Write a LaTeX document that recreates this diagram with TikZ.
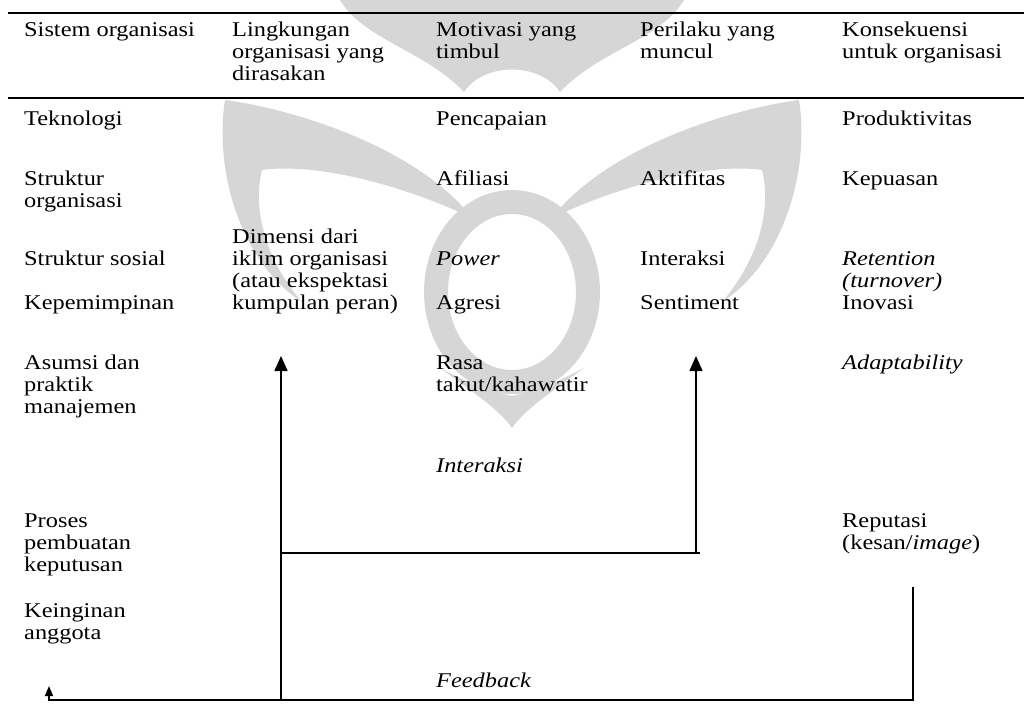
\documentclass[tikz,border=0pt]{standalone}
\usepackage{fontspec}
\setmainfont{Liberation Serif}[FakeStretch=1.16]
\usetikzlibrary{arrows.meta}
\begin{document}
\begin{tikzpicture}[x=1pt,y=-1pt,
  txt/.style={anchor=north west,inner sep=0pt,align=left,
    font=\fontsize{21}{22}\selectfont,text=black},
  rule/.style={line width=2pt},
  flow/.style={line width=1.5pt},
  up/.style={flow,-{Triangle[width=13pt,length=15pt]}},
  upsmall/.style={flow,-{Triangle[width=8pt,length=10pt]}},
  wm/.style={fill=black!16,draw=none}]
\useasboundingbox (0,0) rectangle (1024,721);
% faint emblem in the background
\begin{scope}
  \draw[black!16,line width=24pt] (512,292) ellipse (76 and 90);
  \path[wm] (340,0) -- (684,0) .. controls (660,40) and (600,50) .. (560,92)
    .. controls (540,62) and (484,62) .. (464,92) .. controls (424,50) and (364,40) .. cycle;
  \path[wm] (440,368) .. controls (470,390) and (500,410) .. (512,428)
    .. controls (524,410) and (554,390) .. (584,368)
    .. controls (550,386) and (530,392) .. (512,396)
    .. controls (494,392) and (474,386) .. cycle;
  \foreach \s in {1,-1}{
    \begin{scope}[shift={(512,0)},xscale=\s,shift={(-512,0)}]
      \path[wm] (225,100) .. controls (300,110) and (420,150) .. (472,218)
        .. controls (410,188) and (320,162) .. (262,170)
        .. controls (252,210) and (266,260) .. (302,302)
        .. controls (240,262) and (214,170) .. cycle;
    \end{scope}}
\end{scope}
% table rules
\coordinate (t1) at (8,13);  \coordinate (t2) at (1024,13);
\coordinate (h1) at (8,98);  \coordinate (h2) at (1024,98);
\draw[rule] (t1) -- (t2);
\draw[rule] (h1) -- (h2);
% header row
\node[txt] (hA) at (24,20.6) {\strut Sistem organisasi};
\node[txt] (hB) at (232,20.6) {\strut Lingkungan\\organisasi yang\\dirasakan};
\node[txt] (hC) at (436,20.6) {\strut Motivasi yang\\timbul};
\node[txt] (hD) at (640,20.6) {\strut Perilaku yang\\muncul};
\node[txt] (hE) at (842,20.6) {\strut Konsekuensi\\untuk organisasi};
% column 1
\node[txt] (a1) at (24,109.6) {\strut Teknologi};
\node[txt] (a2) at (24,169.6) {\strut Struktur\\organisasi};
\node[txt] (a3) at (24,249.6) {\strut Struktur sosial};
\node[txt] (a4) at (24,293.6) {\strut Kepemimpinan};
\node[txt] (a5) at (24,353.6) {\strut Asumsi dan\\praktik\\manajemen};
\node[txt] (a6) at (24,511.6) {\strut Proses\\pembuatan\\keputusan};
\node[txt] (a7) at (24,601.6) {\strut Keinginan\\anggota};
% column 2
\node[txt] (b1) at (232,227.6) {\strut Dimensi dari\\iklim organisasi\\(atau ekspektasi\\kumpulan peran)};
% column 3
\node[txt] (c1) at (436,109.6) {\strut Pencapaian};
\node[txt] (c2) at (436,169.6) {\strut Afiliasi};
\node[txt] (c3) at (436,249.6) {\strut\textit{Power}};
\node[txt] (c4) at (436,293.6) {\strut Agresi};
\node[txt] (c5) at (436,353.6) {\strut Rasa\\takut/kahawatir};
\node[txt] (c6) at (436,456.6) {\strut\textit{Interaksi}};
\node[txt] (c7) at (436,671.6) {\strut\textit{Feedback}};
% column 4
\node[txt] (d1) at (640,169.6) {\strut Aktifitas};
\node[txt] (d2) at (640,249.6) {\strut Interaksi};
\node[txt] (d3) at (640,293.6) {\strut Sentiment};
% column 5
\node[txt] (e1) at (842,109.6) {\strut Produktivitas};
\node[txt] (e2) at (842,169.6) {\strut Kepuasan};
\node[txt] (e3) at (842,249.6) {\strut\textit{Retention}\\\textit{(turnover)}};
\node[txt] (e4) at (842,293.6) {\strut Inovasi};
\node[txt] (e5) at (842,353.6) {\strut\textit{Adaptability}};
\node[txt] (e6) at (842,511.6) {\strut Reputasi\\(kesan/\textit{image})};
% interaction and feedback loops
\coordinate (jB) at (281,700);
\coordinate (tipB) at (281,356);
\coordinate (iL) at (281,553);
\coordinate (iR) at (700,553);
\coordinate (iD) at (696,553);
\coordinate (tipD) at (696,356);
\coordinate (fR) at (913,587);
\coordinate (fC) at (913,700);
\coordinate (fL) at (49,700);
\coordinate (tipA) at (49,686);
\draw[up] (jB) -- (tipB);
\draw[flow] (iL) -- (iR);
\draw[up] (iD) -- (tipD);
\draw[upsmall] (fR) -- (fC) -- (fL) -- (tipA);
\end{tikzpicture}
\end{document}
